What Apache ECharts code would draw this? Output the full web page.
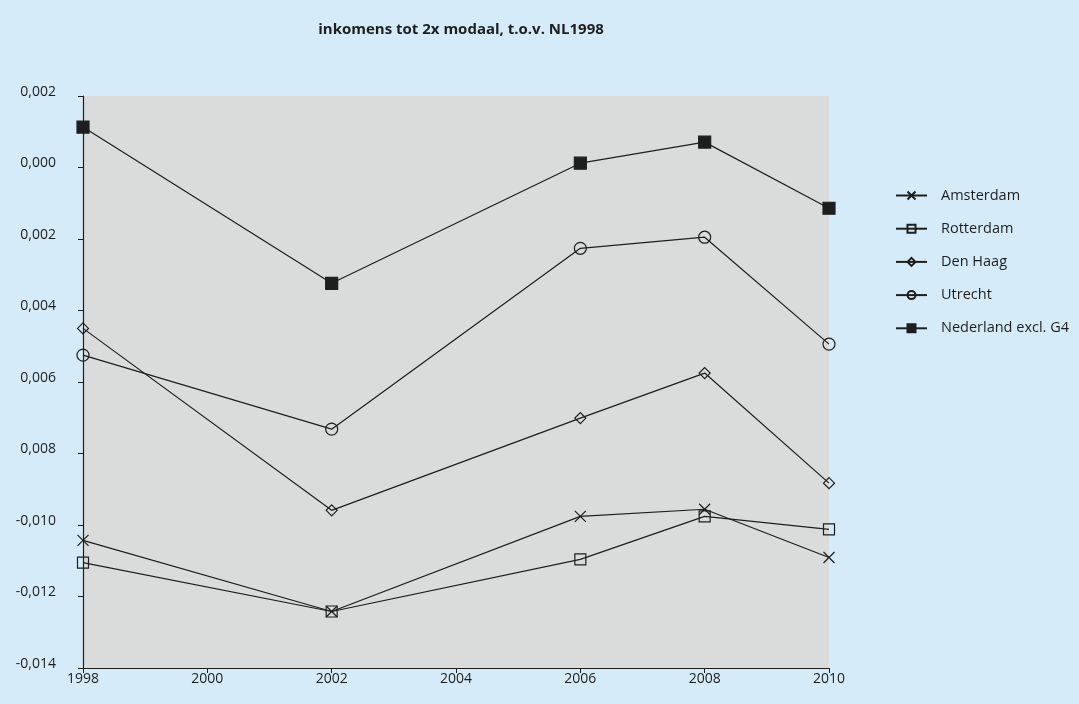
<!DOCTYPE html>
<html>
<head>
<meta charset="utf-8">
<script src="https://cdn.jsdelivr.net/npm/echarts@6/dist/echarts.min.js"></script>
<style>
  html, body { margin: 0; padding: 0; background: #d5ebf9; }
  #chart { width: 1079px; height: 704px; }
</style>
</head>
<body>
<div id="chart"></div>
<script>
// Years on the horizontal axis
const years = [1998, 2002, 2006, 2008, 2010];

// Series values, relative to NL 1998
const amsterdam   = [-0.01043, -0.01242, -0.00976, -0.00956, -0.01091];
const rotterdam   = [-0.01105, -0.01242, -0.01096, -0.00976, -0.01012];
const denHaag     = [-0.00450, -0.00959, -0.00701, -0.00575, -0.00883];
const utrecht     = [-0.00525, -0.00732, -0.00226, -0.00195, -0.00494];
const nederland   = [ 0.00113, -0.00324,  0.00012,  0.00071, -0.00114];

// Y tick labels, bottom to top, as printed
const yTickLabels = ['-0,014', '-0,012', '-0,010', '0,008', '0,006', '0,004', '0,002', '0,000', '0,002'];

const seriesNames = ['Amsterdam', 'Rotterdam', 'Den Haag', 'Utrecht', 'Nederland excl. G4'];
const seriesValues = [amsterdam, rotterdam, denHaag, utrecht, nederland];

const ink = '#1e1e1e';
const hollow = 'rgba(0,0,0,0)';
const markers = [
  { symbol: 'path://M0,0L10,10M10,0L0,10', size: 11, fill: hollow },
  { symbol: 'rect', size: 11, fill: hollow },
  { symbol: 'diamond', size: 11, fill: hollow },
  { symbol: 'circle', size: 12, fill: hollow },
  { symbol: 'rect', size: 12, fill: ink }
];

const chart = echarts.init(document.getElementById('chart'), null, { renderer: 'canvas' });

const series = seriesNames.map((name, i) => ({
  name: name,
  type: 'line',
  data: years.map((y, j) => [y, seriesValues[i][j]]),
  symbol: markers[i].symbol,
  symbolSize: markers[i].size,
  showAllSymbol: true,
  lineStyle: { color: ink, width: 1.2 },
  itemStyle: { color: markers[i].fill, borderColor: ink, borderWidth: 1.2 },
  emphasis: { disabled: true },
  animation: false
}));

chart.setOption({
  backgroundColor: '#d5ebf9',
  textStyle: { fontFamily: '"Open Sans", "Noto Sans", sans-serif', color: ink },
  title: {
    text: 'inkomens tot 2x modaal, t.o.v. NL1998',
    left: 456,
    top: 17,
    textAlign: 'center',
    textStyle: { fontSize: 15, fontWeight: 'bold', color: ink, fontFamily: '"Open Sans", sans-serif' }
  },
  legend: {
    orient: 'vertical',
    left: 890,
    top: 183,
    itemWidth: 31,
    itemHeight: 10,
    itemGap: 18.2,
    data: seriesNames,
    textStyle: { fontSize: 14.5, color: ink, padding: [0, 0, 0, 9] }
  },
  grid: {
    left: 83,
    right: 250,
    top: 96,
    bottom: 36,
    show: true,
    backgroundColor: '#dadbdb',
    borderWidth: 0
  },
  xAxis: {
    type: 'value',
    min: 1998,
    max: 2010,
    interval: 2,
    axisLine: { onZero: false, lineStyle: { color: ink, width: 1.2 } },
    axisTick: { show: true, length: 5, lineStyle: { color: ink } },
    axisLabel: { color: ink, fontSize: 14, margin: 4, formatter: v => String(v) },
    splitLine: { show: false }
  },
  yAxis: {
    type: 'value',
    min: -0.014,
    max: 0.002,
    interval: 0.002,
    axisLine: { show: true, onZero: false, lineStyle: { color: ink, width: 1.2 } },
    axisTick: { show: true, length: 5, lineStyle: { color: ink } },
    axisLabel: {
      color: ink,
      fontSize: 14,
      margin: 27,
      verticalAlign: 'bottom',
      lineHeight: 8,
      formatter: (v, idx) => yTickLabels[idx] !== undefined ? yTickLabels[idx] : ''
    },
    splitLine: { show: false }
  },
  series: series
});
</script>
</body>
</html>
